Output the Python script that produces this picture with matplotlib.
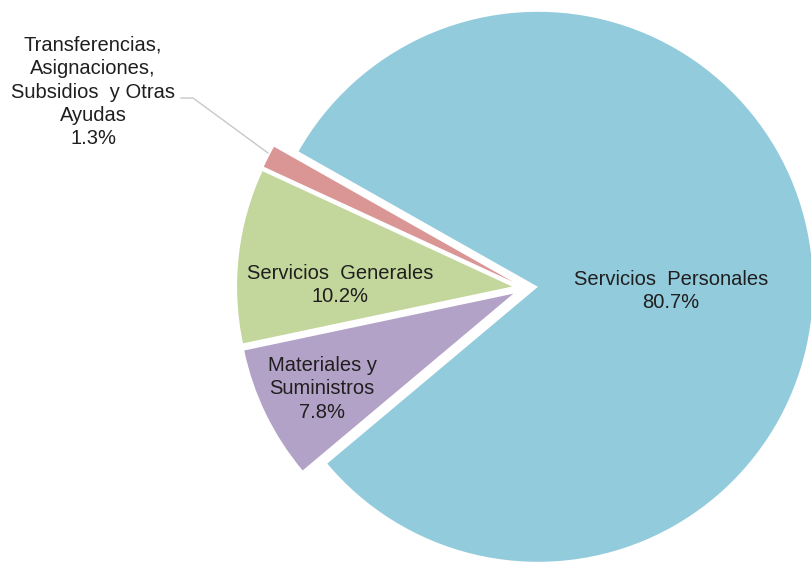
import matplotlib
matplotlib.use("Agg")
import matplotlib.pyplot as plt

# Data
categorias = ["Servicios  Personales",
              "Transferencias,\nAsignaciones,\nSubsidios  y Otras\nAyudas",
              "Servicios  Generales",
              "Materiales y\nSuministros"]
porcentajes = [80.7, 1.3, 10.2, 7.8]
colores = ["#92CBDC", "#D99694", "#C3D69B", "#B3A2C7"]

plt.rcParams['font.family'] = ['Liberation Sans', 'DejaVu Sans']

fig = plt.figure(figsize=(8.11, 5.63), dpi=100)
ax = fig.add_axes([0, 0, 1, 1])

# pie in pixel-like data coordinates (explode is in data units here)
ax.pie(porcentajes, colors=colores, startangle=-140, counterclock=True,
       center=(525, 275), radius=275, explode=[13] * 4,
       wedgeprops=dict(linewidth=0), frame=True)
ax.set_xlim(0, 811)
ax.set_ylim(0, 563)
ax.set_aspect('equal')
ax.axis('off')

# labels
pos_etiquetas = [(671, 272), (93, 471), (340, 278), (322, 174)]
for cat, pct, (x, y) in zip(categorias, porcentajes, pos_etiquetas):
    ax.text(x, y, f"{cat}\n{pct:.1f}%", ha='center', va='center',
            fontsize=14.5, color='#1f1f1f', linespacing=1.3)

# leader line for the small slice
ax.plot([181, 193, 268], [465, 465, 410], color='#c8c8c8', lw=1)

fig.savefig("out.png", dpi=100)
